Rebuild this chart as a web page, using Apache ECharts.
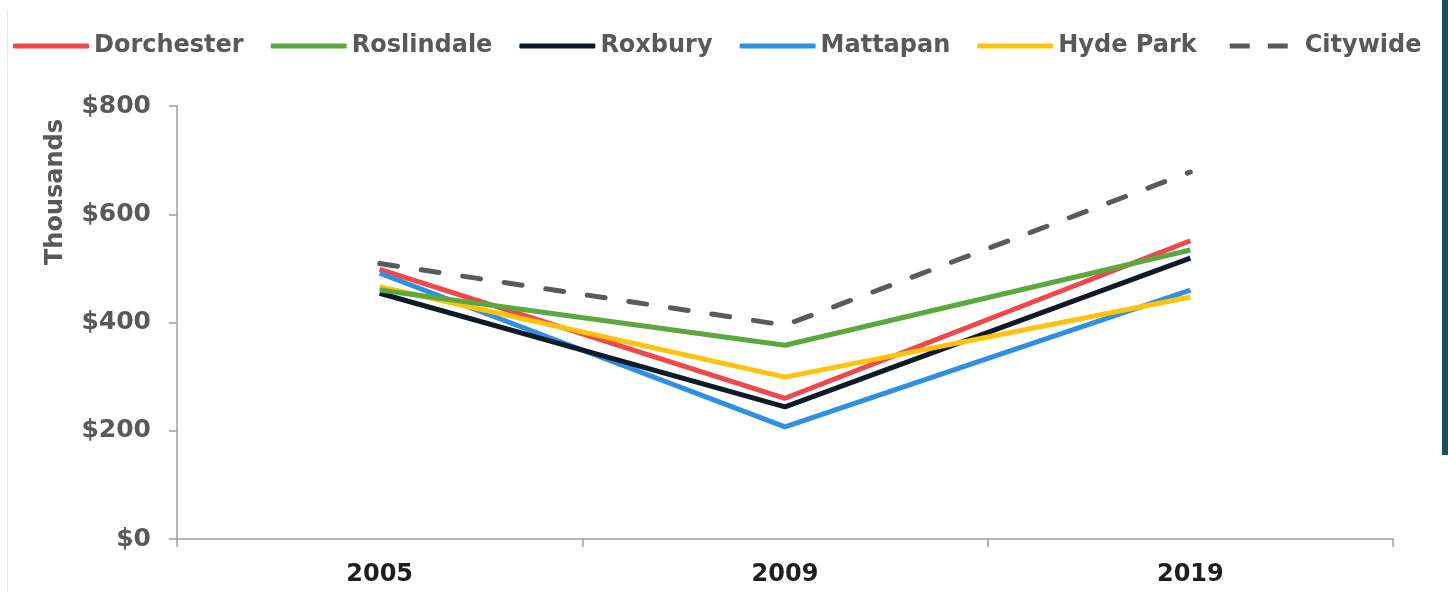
<!DOCTYPE html>
<html><head><meta charset="utf-8">
<script src="https://cdn.jsdelivr.net/npm/echarts@6/dist/echarts.min.js"></script>
<style>html,body{margin:0;padding:0;background:#fff}#c{width:1448px;height:592px}</style>
</head><body><div id="c"></div>
<script>
const years = ['2005', '2009', '2019'];
const yTicks = [0, 200, 400, 600, 800];
const dorchester = [498, 260, 551];
const roslindale = [460, 358, 534];
const roxbury = [454, 244, 519];
const mattapan = [491, 207, 460];
const hydePark = [466, 299, 447];
const citywide = [509, 395, 678];

const FONT = 'DejaVu Sans';
const mk = (name, data, color, dashed) => ({
  name, type: 'line', data, symbol: 'none', smooth: false,
  lineStyle: { color, width: 5, type: dashed ? [18, 24] : 'solid', cap: dashed ? 'round' : 'butt' },
  itemStyle: { color }
});
const chart = echarts.init(document.getElementById('c'));
chart.setOption({
  animation: false,
  backgroundColor: '#ffffff',
  legend: {
    top: 29, left: 8, itemWidth: 76, itemHeight: 5, itemGap: 27,
    icon: 'roundRect',
    textStyle: { fontFamily: FONT, fontWeight: 'bold', fontSize: 24, color: '#595959' },
    data: ['Dorchester', 'Roslindale', 'Roxbury', 'Mattapan', 'Hyde Park',
      { name: 'Citywide', icon: 'path://M0,0M76,5M6,0h20v5h-20zM44,0h20v5h-20z' }]
  },
  grid: { left: 177, right: 55, top: 106, bottom: 53 },
  xAxis: {
    type: 'category', data: years, boundaryGap: true,
    axisLine: { lineStyle: { color: '#9e9e9e', width: 1.5 } },
    axisTick: { show: true, length: 8, lineStyle: { color: '#9e9e9e', width: 1.5 } },
    axisLabel: { fontFamily: FONT, fontWeight: 'bold', fontSize: 24, color: '#1e1e1e', margin: 24 }
  },
  yAxis: {
    type: 'value', min: 0, max: 800, interval: 200,
    axisLine: { show: true, lineStyle: { color: '#9e9e9e', width: 1.5 } },
    axisTick: { show: true, length: 8, lineStyle: { color: '#9e9e9e', width: 1.5 } },
    splitLine: { show: false },
    axisLabel: { fontFamily: FONT, fontWeight: 'bold', fontSize: 25, color: '#595959', margin: 26,
      formatter: v => '$' + v }
  },
  graphic: [
    { type: 'text', left: 44, top: 119, rotation: Math.PI / 2,
      style: { text: 'Thousands', fontFamily: FONT, fontWeight: 'bold', fontSize: 24, fill: '#595959' } },
    { type: 'rect', shape: { x: 1442, y: 0, width: 6, height: 455 }, style: { fill: '#1a4f5c' } },
    { type: 'rect', shape: { x: 7, y: 10, width: 1, height: 582 }, style: { fill: '#e4e4e4' } }
  ],
  series: [
    mk('Citywide', citywide, '#5a5a5a', true),
    mk('Dorchester', dorchester, '#f0474b', false),
    mk('Mattapan', mattapan, '#2f8fe3', false),
    mk('Roxbury', roxbury, '#0f1a28', false),
    mk('Hyde Park', hydePark, '#ffc20e', false),
    mk('Roslindale', roslindale, '#5aa83e', false)
  ]
});
</script></body></html>
